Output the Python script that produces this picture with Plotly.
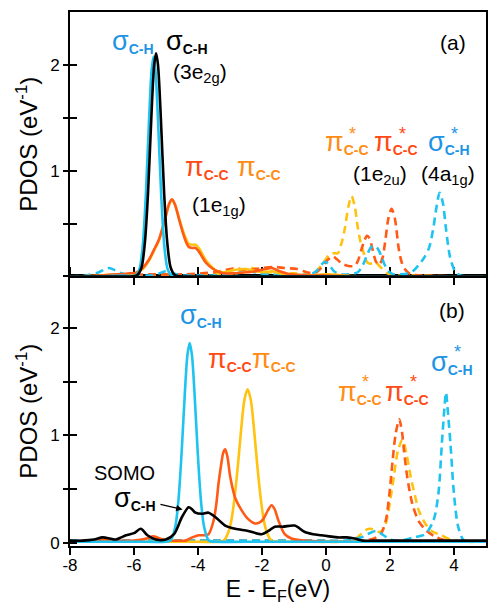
import plotly.graph_objects as go

# ---------------- data ----------------
# Panel (a)
a_cyan_solid_x = [-8.0, -7.0, -6.4, -5.95, -5.83, -5.73, -5.63, -5.53, -5.45, -5.39, -5.33, -5.25, -5.15, -5.05, -4.95, -4.83, -4.5, -3.0, -1.0, 1.0, 3.0, 5.0]
a_cyan_solid_y = [0.0, 0.0, 0.01, 0.01, 0.07, 0.28, 0.77, 1.48, 1.95, 2.08, 1.95, 1.48, 0.77, 0.28, 0.07, 0.01, 0.0, 0.0, 0.0, 0.0, 0.0, 0.0]

a_black_solid_x = [-8.0, -6.5, -5.91, -5.77, -5.66, -5.56, -5.46, -5.37, -5.31, -5.25, -5.16, -5.06, -4.96, -4.85, -4.71, -4.3, -3.0, 0.0, 5.0]
a_black_solid_y = [0.0, 0.0, 0.01, 0.08, 0.32, 0.80, 1.49, 2.0, 2.11, 2.0, 1.49, 0.80, 0.32, 0.08, 0.01, 0.0, 0.0, 0.0, 0.0]

a_pi_x = [-8.0, -7.0, -6.5, -6.14, -5.94, -5.73, -5.53, -5.38, -5.22, -5.1, -5.01, -4.9, -4.81, -4.72, -4.6, -4.5, -4.38, -4.29, -4.18, -4.08, -3.98, -3.88, -3.75, -3.57, -3.4, -3.2, -2.9, -2.5, -2.2, -1.9, -1.7, -1.45, -1.1, -0.6, 0.0, 1.0, 3.0, 5.0]
a_red_solid_y = [0.0, 0.01, 0.02, 0.03, 0.035, 0.08, 0.16, 0.25, 0.35, 0.47, 0.57, 0.69, 0.73, 0.68, 0.55, 0.44, 0.33, 0.28, 0.27, 0.27, 0.24, 0.19, 0.13, 0.08, 0.05, 0.03, 0.03, 0.04, 0.05, 0.07, 0.08, 0.05, 0.02, 0.01, 0.01, 0.0, 0.0, 0.0]
a_gold_solid_y = [0.0, 0.01, 0.02, 0.02, 0.03, 0.07, 0.15, 0.24, 0.34, 0.46, 0.56, 0.68, 0.72, 0.68, 0.56, 0.46, 0.36, 0.31, 0.30, 0.30, 0.27, 0.22, 0.15, 0.09, 0.05, 0.04, 0.06, 0.07, 0.05, 0.04, 0.05, 0.03, 0.02, 0.01, 0.02, 0.0, 0.0, 0.0]

a_gold_dash_x = [-8.0, -6.0, -4.5, -3.5, -2.9, -2.6, -2.3, -2.0, -1.5, -1.0, -0.6, -0.35, -0.1, 0.11, 0.25, 0.37, 0.48, 0.58, 0.70, 0.80, 0.90, 0.99, 1.07, 1.15, 1.30, 1.45, 1.56, 1.7, 1.92, 2.2, 3.0, 4.0, 5.0]
a_gold_dash_y = [0.0, 0.0, 0.01, 0.02, 0.03, 0.06, 0.08, 0.05, 0.03, 0.03, 0.02, 0.04, 0.12, 0.21, 0.22, 0.22, 0.31, 0.44, 0.66, 0.76, 0.66, 0.47, 0.34, 0.25, 0.13, 0.12, 0.13, 0.09, 0.03, 0.01, 0.01, 0.0, 0.0]

a_red_dash_x = [-8.0, -6.5, -5.5, -4.5, -3.5, -3.0, -2.84, -2.5, -2.0, -1.6, -1.3, -0.9, -0.6, -0.35, -0.15, 0.0, 0.1, 0.21, 0.35, 0.5, 0.7, 0.89, 1.0, 1.1, 1.2, 1.28, 1.36, 1.46, 1.56, 1.66, 1.76, 1.85, 1.95, 2.05, 2.15, 2.28, 2.38, 2.49, 2.65, 3.0, 4.0, 5.0]
a_red_dash_y = [0.0, 0.01, 0.02, 0.02, 0.04, 0.07, 0.08, 0.06, 0.08, 0.09, 0.08, 0.07, 0.04, 0.03, 0.08, 0.14, 0.17, 0.19, 0.16, 0.12, 0.10, 0.10, 0.15, 0.25, 0.34, 0.385, 0.36, 0.25, 0.14, 0.11, 0.17, 0.33, 0.55, 0.64, 0.55, 0.25, 0.12, 0.06, 0.02, 0.01, 0.0, 0.0]

a_cyan_dash_x = [-8.0, -7.5, -7.1, -6.9, -6.77, -6.6, -6.4, -6.1, -5.8, -5.5, -5.2, -5.0, -4.8, -4.5, -4.0, -3.5, -3.0, -2.6, -2.4, -2.1, -1.7, -1.3, -0.9, -0.5, -0.3, -0.15, -0.03, 0.1, 0.25, 0.45, 0.7, 0.99, 1.1, 1.2, 1.32, 1.42, 1.51, 1.6, 1.72, 1.82, 1.95, 2.1, 2.3, 2.59, 2.75, 2.9, 3.05, 3.22, 3.35, 3.45, 3.55, 3.65, 3.75, 3.88, 4.05, 4.2, 4.5, 5.0]
a_cyan_dash_y = [0.0, 0.01, 0.04, 0.07, 0.08, 0.06, 0.03, 0.01, 0.01, 0.01, 0.03, 0.05, 0.03, 0.01, 0.01, 0.01, 0.02, 0.04, 0.05, 0.03, 0.02, 0.01, 0.01, 0.02, 0.05, 0.11, 0.14, 0.11, 0.05, 0.02, 0.02, 0.04, 0.08, 0.14, 0.23, 0.28, 0.29, 0.27, 0.2, 0.12, 0.05, 0.02, 0.02, 0.03, 0.06, 0.11, 0.17, 0.27, 0.45, 0.65, 0.79, 0.7, 0.45, 0.18, 0.04, 0.01, 0.0, 0.0]

# Panel (b)
b_cyan_solid_x = [-8.0, -6.0, -5.0, -4.86, -4.71, -4.61, -4.51, -4.41, -4.33, -4.26, -4.19, -4.11, -4.01, -3.91, -3.81, -3.66, -3.4, -2.0, 0.0, 2.0, 5.0]
b_cyan_solid_y = [0.01, 0.01, 0.01, 0.02, 0.15, 0.40, 0.85, 1.40, 1.75, 1.86, 1.75, 1.40, 0.85, 0.40, 0.15, 0.02, 0.01, 0.01, 0.01, 0.01, 0.01]

b_gold_solid_x = [-8.0, -6.0, -4.0, -3.2, -3.05, -2.95, -2.85, -2.75, -2.65, -2.55, -2.45, -2.35, -2.25, -2.15, -2.05, -1.95, -1.85, -1.7, -1.2, 0.0, 2.0, 5.0]
b_gold_solid_y = [0.01, 0.01, 0.01, 0.02, 0.10, 0.22, 0.44, 0.73, 1.06, 1.33, 1.43, 1.33, 1.06, 0.73, 0.44, 0.22, 0.10, 0.02, 0.01, 0.01, 0.01, 0.01]

b_red_solid_x = [-8.0, -7.3, -6.9, -6.5, -6.0, -5.6, -5.4, -5.2, -4.9, -4.6, -4.39, -4.18, -3.98, -3.8, -3.67, -3.51, -3.42, -3.36, -3.28, -3.21, -3.15, -3.08, -2.99, -2.84, -2.63, -2.43, -2.22, -2.07, -1.96, -1.82, -1.7, -1.6, -1.49, -1.29, -1.08, -0.7, 0.0, 1.0, 2.0, 5.0]
b_red_solid_y = [0.01, 0.02, 0.03, 0.02, 0.02, 0.04, 0.06, 0.04, 0.02, 0.02, 0.02, 0.05, 0.07, 0.07, 0.08, 0.21, 0.38, 0.55, 0.72, 0.84, 0.87, 0.80, 0.61, 0.42, 0.30, 0.22, 0.18, 0.19, 0.22, 0.30, 0.35, 0.31, 0.21, 0.08, 0.04, 0.02, 0.01, 0.01, 0.01, 0.01]

b_black_solid_x = [-8.0, -7.6, -7.25, -6.98, -6.75, -6.57, -6.4, -6.25, -6.0, -5.79, -5.58, -5.32, -5.01, -4.75, -4.5, -4.29, -4.18, -4.08, -3.88, -3.67, -3.46, -3.15, -2.84, -2.43, -2.01, -1.8, -1.6, -1.34, -0.98, -0.66, -0.4, -0.15, 0.1, 0.37, 0.65, 0.89, 1.15, 1.5, 2.0, 3.0, 4.0, 5.0]
b_black_solid_y = [0.02, 0.02, 0.03, 0.05, 0.04, 0.03, 0.05, 0.07, 0.09, 0.13, 0.07, 0.03, 0.03, 0.08, 0.24, 0.33, 0.31, 0.28, 0.27, 0.28, 0.24, 0.16, 0.13, 0.11, 0.08, 0.11, 0.15, 0.15, 0.16, 0.10, 0.08, 0.07, 0.06, 0.05, 0.05, 0.04, 0.02, 0.02, 0.02, 0.02, 0.02, 0.02]

b_red_dash_x = [-8.0, -6.0, -4.0, -2.0, 0.0, 0.8, 1.2, 1.5, 1.71, 1.87, 1.98, 2.08, 2.18, 2.29, 2.38, 2.44, 2.54, 2.7, 2.9, 3.15, 3.46, 3.77, 4.2, 5.0]
b_red_dash_y = [0.02, 0.02, 0.02, 0.02, 0.02, 0.01, 0.02, 0.04, 0.08, 0.21, 0.45, 0.76, 1.02, 1.15, 1.02, 0.85, 0.61, 0.36, 0.2, 0.11, 0.05, 0.02, 0.01, 0.01]

b_gold_dash_x = [-8.0, -6.0, -4.0, -2.0, -0.5, 0.5, 0.89, 1.09, 1.25, 1.40, 1.55, 1.7, 1.82, 1.92, 2.02, 2.13, 2.25, 2.39, 2.52, 2.65, 2.78, 2.9, 3.1, 3.3, 3.6, 3.97, 4.3, 5.0]
b_gold_dash_y = [0.01, 0.01, 0.01, 0.01, 0.01, 0.01, 0.03, 0.08, 0.12, 0.13, 0.11, 0.1, 0.14, 0.24, 0.42, 0.64, 0.86, 0.96, 0.82, 0.61, 0.44, 0.30, 0.18, 0.11, 0.07, 0.02, 0.01, 0.01]

b_cyan_dash_x = [-8.0, -6.0, -4.0, -2.0, 0.0, 0.6, 1.09, 1.3, 1.56, 1.8, 2.0, 2.33, 2.74, 3.1, 3.36, 3.51, 3.62, 3.7, 3.75, 3.8, 3.89, 4.0, 4.13, 4.31, 4.6, 5.0]
b_cyan_dash_y = [0.02, 0.02, 0.02, 0.02, 0.02, 0.02, 0.05, 0.08, 0.11, 0.07, 0.03, 0.02, 0.05, 0.08, 0.21, 0.45, 0.92, 1.25, 1.40, 1.25, 0.92, 0.45, 0.15, 0.02, 0.01, 0.01]

x_tick_vals = [-8, -6, -4, -2, 0, 2, 4]
x_tick_text = ["-8", "-6", "-4", "-2", "0", "2", "4"]
y_tick_vals = [0, 0.5, 1, 1.5, 2]
y_tick_text_b = ["0", "", "1", "", "2"]
y_tick_text_a = ["", "", "1", "", "2"]

# ---------------- styles ----------------
CYAN = "#1EC3EF"
RED = "#FF5A16"
GOLD = "#FFC20E"
BLACK = "#000000"
LBL_BLUE = "#1E94E4"
LBL_RED = "#FF4A14"
LBL_ORANGE = "#FF8C14"
FONT = "Liberation Sans, Arial, Helvetica, sans-serif"
LW = 2.6
DASH = "8px,5px"

fig = go.Figure()


def add(x, y, color, dash=None, panel="b", width=LW):
    xa, ya = ("x", "y") if panel == "b" else ("x2", "y2")
    line = dict(color=color, width=width, shape="spline", smoothing=0.8)
    if dash:
        line["dash"] = dash
    fig.add_trace(go.Scatter(x=x, y=y, mode="lines", line=line, xaxis=xa, yaxis=ya,
                             showlegend=False, hoverinfo="skip"))


# panel (a)
add(a_gold_dash_x, a_gold_dash_y, GOLD, DASH, "a")
add(a_red_dash_x, a_red_dash_y, RED, DASH, "a")
add(a_cyan_dash_x, a_cyan_dash_y, CYAN, DASH, "a")
add(a_pi_x, a_gold_solid_y, GOLD, None, "a")
add(a_pi_x, a_red_solid_y, RED, None, "a")
add(a_cyan_solid_x, a_cyan_solid_y, CYAN, None, "a")
add(a_black_solid_x, a_black_solid_y, BLACK, None, "a")

# panel (b)
add(b_gold_dash_x, b_gold_dash_y, GOLD, DASH, "b")
add(b_red_dash_x, b_red_dash_y, RED, DASH, "b")
add(b_cyan_dash_x, b_cyan_dash_y, CYAN, DASH, "b")
add(b_gold_solid_x, b_gold_solid_y, GOLD, None, "b")
add(b_red_solid_x, b_red_solid_y, RED, None, "b")
add(b_cyan_solid_x, b_cyan_solid_y, CYAN, None, "b")
add(b_black_solid_x, b_black_solid_y, BLACK, None, "b")

# empty traces so that the overlay axes (inner tick halves) are drawn
fig.add_trace(go.Scatter(x=[], y=[], xaxis="x", yaxis="y3", showlegend=False, hoverinfo="skip"))
fig.add_trace(go.Scatter(x=[], y=[], xaxis="x2", yaxis="y4", showlegend=False, hoverinfo="skip"))

SPLIT = 0.5047
axis_common = dict(showgrid=False, zeroline=False, showline=True, linecolor="black", linewidth=2,
                   tickcolor="black", tickwidth=2, tickfont=dict(family=FONT, size=17, color="black"))

fig.update_layout(
    width=489, height=605,
    margin=dict(l=70, r=1, t=12, b=56),
    paper_bgcolor="white", plot_bgcolor="white",
    font=dict(family=FONT, color="black"),
    xaxis=dict(domain=[0, 1], anchor="y", range=[-8, 5], tickvals=x_tick_vals, ticktext=x_tick_text,
               ticks="outside", ticklen=7, mirror="ticks", ticklabelstandoff=-4,
               title=dict(text="E - E<sub>F</sub>(eV)", font=dict(family=FONT, size=23), standoff=12),
               **axis_common),
    xaxis2=dict(domain=[0, 1], anchor="y2", range=[-8, 5], tickvals=x_tick_vals[1:],
                ticks="outside", ticklen=7, mirror=True, showticklabels=False, **axis_common),
    yaxis=dict(domain=[0, SPLIT], anchor="x", range=[-0.03, 2.48], tickvals=y_tick_vals,
               ticktext=y_tick_text_b, ticks="outside", ticklen=5, mirror=True,
               title=dict(text="PDOS (eV<sup>-1</sup>)", font=dict(family=FONT, size=24), standoff=6),
               **axis_common),
    yaxis3=dict(overlaying="y", anchor="x", side="left", range=[-0.03, 2.48], tickvals=y_tick_vals,
                ticks="inside", ticklen=7, tickwidth=2, tickcolor="black", showticklabels=False,
                showline=False, showgrid=False, zeroline=False),
    yaxis2=dict(domain=[SPLIT, 1], anchor="x2", range=[0, 2.5], tickvals=y_tick_vals,
                ticktext=y_tick_text_a, ticks="outside", ticklen=5, mirror=True,
                title=dict(text="PDOS (eV<sup>-1</sup>)", font=dict(family=FONT, size=24), standoff=6),
                **axis_common),
    yaxis4=dict(overlaying="y2", anchor="x2", side="left", range=[0, 2.5], tickvals=y_tick_vals[1:],
                ticks="inside", ticklen=7, tickwidth=2, tickcolor="black", showticklabels=False,
                showline=False, showgrid=False, zeroline=False),
)

SIG = "<span style='font-size:27px'>σ</span><sub><b>C-H</b></sub>"
PI = "<span style='font-size:27px'>π</span><sub><b>C-C</b></sub>"


def label(text, x, y, color, panel, size=20):
    xr, yr = ("x", "y") if panel == "b" else ("x2", "y2")
    fig.add_annotation(x=x, y=y, xref=xr, yref=yr, text=text, showarrow=False,
                       xanchor="center", yanchor="middle",
                       font=dict(family=FONT, size=size, color=color))


# panel (a) labels
label(SIG, -6.03, 2.22, LBL_BLUE, "a")
label(SIG, -4.33, 2.22, BLACK, "a")
label("(3e<sub>2g</sub>)", -3.95, 1.92, BLACK, "a", 21)
label(PI, -3.73, 1.03, LBL_RED, "a")
label(PI, -2.08, 1.03, LBL_ORANGE, "a")
label("(1e<sub>1g</sub>)", -3.33, 0.67, BLACK, "a", 21)
label(PI, 0.66, 1.27, LBL_ORANGE, "a")
label(PI, 2.19, 1.27, LBL_RED, "a")
label(SIG, 3.83, 1.27, LBL_BLUE, "a")
label("*", 0.84, 1.35, LBL_ORANGE, "a", 18)
label("*", 2.38, 1.35, LBL_RED, "a", 18)
label("*", 4.03, 1.35, LBL_BLUE, "a", 18)
label("(1e<sub>2u</sub>)", 1.69, 0.96, BLACK, "a", 21)
label("(4a<sub>1g</sub>)", 3.80, 0.96, BLACK, "a", 21)
label("(a)", 3.97, 2.21, BLACK, "a", 21)

# panel (b) labels
label(SIG, -3.92, 2.12, LBL_BLUE, "b")
label(PI, -3.0, 1.71, LBL_RED, "b")
label(PI, -1.63, 1.71, LBL_ORANGE, "b")
label("(b)", 3.94, 2.16, BLACK, "b", 21)
label(SIG, 3.94, 1.68, LBL_BLUE, "b")
label("*", 4.12, 1.78, LBL_BLUE, "b", 18)
label(PI, 1.05, 1.40, LBL_ORANGE, "b")
label(PI, 2.54, 1.40, LBL_RED, "b")
label("*", 1.23, 1.50, LBL_ORANGE, "b", 18)
label("*", 2.72, 1.50, LBL_RED, "b", 18)
label("SOMO", -6.31, 0.65, BLACK, "b")
label(SIG, -5.98, 0.41, BLACK, "b")
fig.add_annotation(x=-4.48, y=0.31, xref="x", yref="y", ax=-5.22, ay=0.36, axref="x", ayref="y",
                   text="", showarrow=True, arrowhead=2, arrowsize=1, arrowwidth=1.3, arrowcolor="black")

fig.write_html("out.html")
